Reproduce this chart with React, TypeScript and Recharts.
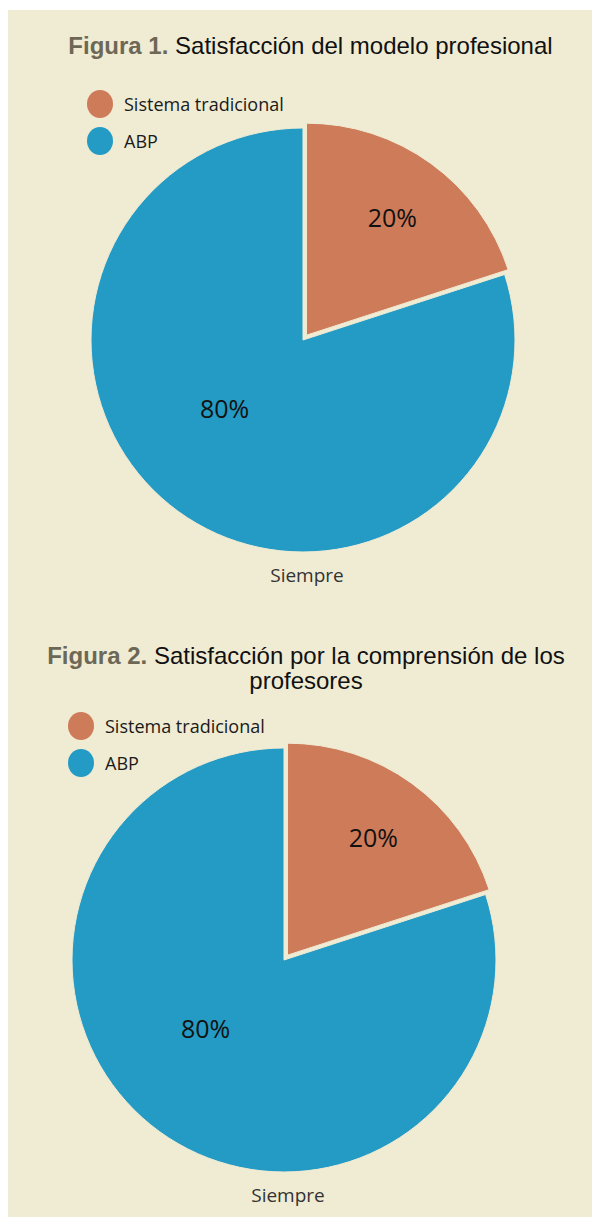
import { PieChart, Pie, Cell, Legend } from 'recharts'

const categories = ['Sistema tradicional', 'ABP']
const fig1Values = [20, 80]
const fig2Values = [20, 80]
const seriesLabel = 'Siempre'
const fig1Title = ['Figura 1.', 'Satisfacción del modelo profesional']
const fig2Title = ['Figura 2.', 'Satisfacción por la comprensión de los profesores']

const COLORS = ['#ce7b59', '#239bc5']
const BG = '#f0ebd3'
const RADIUS = 212
const EXPLODE = 6
// where Excel dropped the % labels (degrees, px from the centre)
const LABEL_SPOTS = [
  { angle: 54, r: 146 },
  { angle: 221, r: 104 },
]
const BODY_FONT = '"Open Sans", "Noto Sans", sans-serif'
const TITLE_FONT = '"Liberation Sans", Arial, sans-serif'

interface FigureProps {
  title: string[]
  values: number[]
  top: number
  height: number
  cx: number
  cy: number
  legendX: number
  legendY: number
  titleLeft: number
  titleWidth: number
  titleTop: number
}

function LegendBox() {
  return (
    <div style={{ fontFamily: BODY_FONT, fontSize: 18, color: '#1a1a1a' }}>
      {categories.map((c, i) => (
        <div key={c} style={{ display: 'flex', alignItems: 'center', height: 37 }}>
          <span
            style={{
              display: 'inline-block',
              width: 26,
              height: 28,
              borderRadius: '50%',
              background: COLORS[i],
            }}
          />
          <span style={{ marginLeft: 11 }}>{c}</span>
        </div>
      ))}
    </div>
  )
}

function Figure({ title, values, top, height, cx, cy, legendX, legendY, titleLeft, titleWidth, titleTop }: FigureProps) {
  const data = categories.map((name, i) => ({ name, value: values[i] }))
  const total = values.reduce((a, b) => a + b, 0)
  const mid = ((90 - (180 * values[0]) / total) * Math.PI) / 180
  const ex = cx + EXPLODE * Math.cos(mid)
  const ey = cy - EXPLODE * Math.sin(mid)

  const makeLabel = (show: number) => (props: any) => {
    if (props.index !== show) return null
    const spot = LABEL_SPOTS[show]
    const a = (spot.angle * Math.PI) / 180
    return (
      <text
        x={props.cx + spot.r * Math.cos(a)}
        y={props.cy - spot.r * Math.sin(a)}
        textAnchor="middle"
        dominantBaseline="central"
        fill="#111"
        style={{ fontFamily: BODY_FONT, fontSize: 25 }}
      >
        {`${Math.round((props.value / total) * 100)}%`}
      </text>
    )
  }

  return (
    <div style={{ position: 'absolute', left: 0, top, width: 592, height }}>
      <div
        style={{
          position: 'absolute',
          left: titleLeft,
          top: titleTop,
          width: titleWidth,
          textAlign: 'center',
          fontFamily: TITLE_FONT,
          fontSize: 24,
          lineHeight: '25px',
          color: '#111',
        }}
      >
        <span style={{ fontWeight: 'bold', color: '#6d6856' }}>{title[0]}</span> {title[1]}
      </div>
      <PieChart width={592} height={height} margin={{ top: 0, right: 0, bottom: 0, left: 0 }}>
        <Legend
          layout="horizontal"
          verticalAlign="middle"
          align="center"
          content={() => <LegendBox />}
          wrapperStyle={{ left: legendX - 13, top: legendY - 18.5, width: 'auto' }}
        />
        <Pie
          data={data}
          dataKey="value"
          nameKey="name"
          cx={cx}
          cy={cy}
          outerRadius={RADIUS}
          startAngle={90}
          endAngle={-270}
          label={makeLabel(1)}
          labelLine={false}
          isAnimationActive={false}
        >
          {data.map((d, i) => (
            <Cell key={d.name} fill={i === 1 ? COLORS[1] : 'transparent'} stroke={i === 1 ? BG : 'none'} strokeWidth={1} />
          ))}
        </Pie>
        <Pie
          data={data}
          dataKey="value"
          nameKey="name"
          cx={ex}
          cy={ey}
          outerRadius={RADIUS}
          startAngle={90}
          endAngle={-270}
          label={makeLabel(0)}
          labelLine={false}
          isAnimationActive={false}
        >
          {data.map((d, i) => (
            <Cell key={d.name} fill={i === 0 ? COLORS[0] : 'transparent'} stroke={i === 0 ? BG : 'none'} strokeWidth={1} />
          ))}
        </Pie>
      </PieChart>
      <div
        style={{
          position: 'absolute',
          left: cx - 100 + 4,
          width: 200,
          top: cy + RADIUS + 10,
          textAlign: 'center',
          fontFamily: BODY_FONT,
          fontSize: 19,
          color: '#333',
        }}
      >
        {seriesLabel}
      </div>
    </div>
  )
}

export default function App() {
  return (
    <div style={{ position: 'absolute', left: 0, top: 0, width: 592, height: 1217, background: '#fff' }}>
      <div style={{ position: 'absolute', left: 8, top: 10, width: 584, height: 1207, background: BG }} />
      <Figure
        title={fig1Title}
        values={fig1Values}
        top={0}
        height={610}
        cx={303}
        cy={340}
        legendX={100}
        legendY={104}
        titleLeft={38}
        titleWidth={545}
        titleTop={33}
      />
      <Figure
        title={fig2Title}
        values={fig2Values}
        top={620}
        height={597}
        cx={284}
        cy={340}
        legendX={81}
        legendY={106}
        titleLeft={30}
        titleWidth={552}
        titleTop={23}
      />
    </div>
  )
}
